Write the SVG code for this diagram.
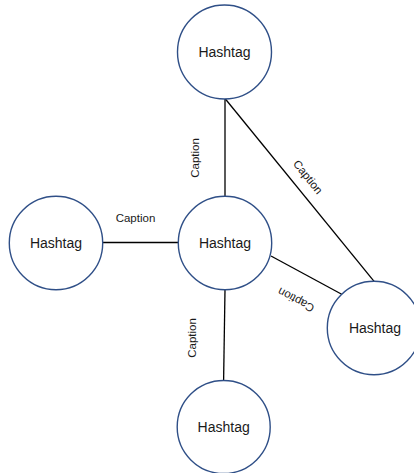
<svg xmlns="http://www.w3.org/2000/svg" width="414" height="473" viewBox="0 0 414 473">
<style>
.node circle{fill:#fff;stroke:#2F4F87;stroke-width:1.4}
.node text{font-family:"Liberation Sans",Arial,sans-serif;font-size:14px;fill:#1a1a1a;text-anchor:middle;dominant-baseline:central}
.edge line{stroke:#000;stroke-width:1.3}
.cap{font-family:"Liberation Sans",Arial,sans-serif;font-size:11.5px;fill:#1a1a1a;text-anchor:middle;dominant-baseline:central}
</style>
<rect width="414" height="473" fill="#fff"/>
<g id="connectors" class="edge">
<line x1="225" y1="98.5" x2="225" y2="196"/>
<line x1="225" y1="98.5" x2="374.3" y2="281.7"/>
<line x1="102.7" y1="242.5" x2="178.3" y2="242.5"/>
<line x1="271" y1="256" x2="341.7" y2="294.3"/>
<line x1="225" y1="289.5" x2="223.6" y2="380.7"/>
<text class="cap" transform="translate(195,158) rotate(-90)">Caption</text>
<text class="cap" transform="translate(308,177) rotate(51)">Caption</text>
<text class="cap" x="135.5" y="218">Caption</text>
<text class="cap" transform="translate(296,300) rotate(208)">Caption</text>
<text class="cap" transform="translate(191.5,338) rotate(-90)">Caption</text>
</g>
<g id="n-top" class="node"><circle cx="224.5" cy="52" r="47"/><text x="224.5" y="52">Hashtag</text></g>
<g id="n-left" class="node"><circle cx="56" cy="243" r="46.7"/><text x="56" y="243">Hashtag</text></g>
<g id="n-center" class="node"><circle cx="225" cy="243" r="46.7"/><text x="225" y="243">Hashtag</text></g>
<g id="n-right" class="node"><circle cx="374" cy="328" r="46.7"/><text x="375" y="328">Hashtag</text></g>
<g id="n-bottom" class="node"><circle cx="223.7" cy="427" r="46.5"/><text x="223.7" y="427">Hashtag</text></g>
</svg>
